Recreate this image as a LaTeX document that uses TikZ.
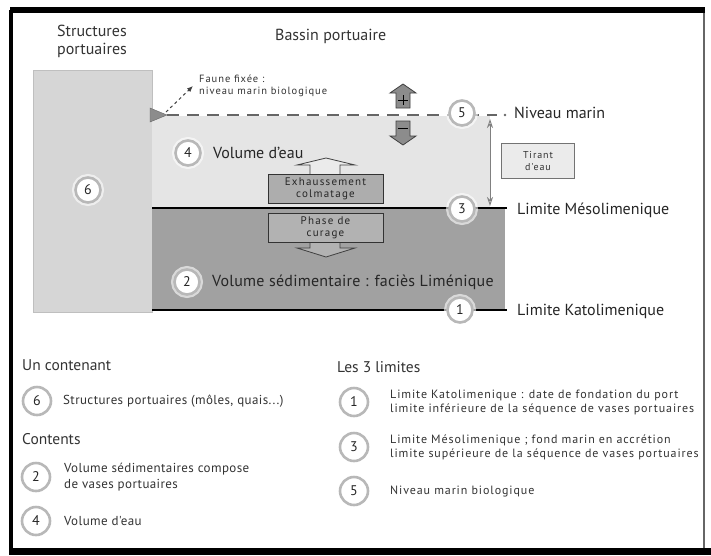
\documentclass[tikz,border=0pt]{standalone}
\usepackage{fontspec}
\setmainfont{PT Sans}
\newfontfamily\fLegR[LetterSpace=7.5]{PT Sans}
\newfontfamily\fLegL[LetterSpace=3]{PT Sans}
\newfontfamily\fSmall[LetterSpace=9]{PT Sans}
\newfontfamily\fBox[LetterSpace=11]{PT Sans}
\newfontfamily\fWide[LetterSpace=1.5]{PT Sans}
\usetikzlibrary{arrows.meta}
\begin{document}
\begin{tikzpicture}[x=1pt,y=-1pt,
  numc/.style={circle,draw=black!28,line width=2.6pt,fill=white,minimum size=25pt,inner sep=0pt,font=\fontsize{14}{14}\selectfont,text=black!85,
    preaction={draw=white,line width=7pt,opacity=0.6}},
  legc/.style={numc,minimum size=28pt},
  biglbl/.style={anchor=west,inner sep=0pt,font=\fontsize{16}{18}\selectfont,text=black!85},
  hd/.style={anchor=west,inner sep=0pt,font=\fontsize{16}{18}\selectfont,text=black!80},
  legL/.style={anchor=west,inner sep=0pt,font=\fLegL\fontsize{13}{16}\selectfont,align=left,text=black!80},
  legR/.style={anchor=west,inner sep=0pt,font=\fLegR\fontsize{12}{14}\selectfont,align=left,text=black!80},
  smalltxt/.style={anchor=west,inner sep=0pt,font=\fSmall\fontsize{10.5}{12}\selectfont,text=black!80},
  procbox/.style={draw=black!80,line width=1pt,minimum width=115pt,minimum height=29pt,inner sep=0pt,align=center,font=\fBox\fontsize{11}{12}\selectfont,text=black!85},
  arrowhd/.style={draw=black!75,line width=0.8pt},
]
\useasboundingbox (0,0) rectangle (711,555);
\fill[white] (0,0) rectangle (711,555);
% frame
\draw[black!60,line width=1.5pt] (11,10) rectangle (704,551);
\fill[black] (10,7) rectangle (705,13);
\fill[black] (9,10) rectangle (13,552);
\fill[black] (9,548) rectangle (711,555);

% headings
\node[hd,align=left] (hstruct) at (57,41) {Structures\\portuaires};
\node[hd] (hbassin) at (275,36) {Bassin portuaire};

% structures block
\draw[fill=black!16,draw=black!25,line width=1pt] (33,70) rectangle (152,312);
% water and sediment
\fill[black!10] (152,116) rectangle (490,208);
\fill[black!37] (152,208) rectangle (505,310);
\draw[line width=2.5pt] (152,208) -- (507,208);
\draw[line width=2.5pt] (152,310) -- (507,310);

% sea level dashed
\draw[black!60,line width=2.5pt,dash pattern=on 12pt off 8pt] (167,115) -- (497,115);
\fill[black!60] (505,115) circle (1.3pt);
% fauna triangle
\draw[fill=black!45,draw=black!60] (150,108) -- (167,115) -- (150,122) -- cycle;
\coordinate (tri) at (166,112);
\node[smalltxt,align=left] (faune) at (199,86) {Faune fixée :\\niveau marin biologique};
\draw[dashed,black!75,line width=1pt,-{Latex[length=6pt,width=5pt]}] (tri) -- (193,86);

% plus / minus arrows
\draw[arrowhd,fill=black!45] (396,108) -- (396,93) -- (390,93) -- (403,84) -- (416,93) -- (410,93) -- (410,108) -- cycle;
\draw[black,line width=0.8pt] (398,100) -- (408,100) (403,95) -- (403,105);
\draw[arrowhd,fill=black!45] (396,121) -- (396,136) -- (390,136) -- (403,145) -- (416,136) -- (410,136) -- (410,121) -- cycle;
\draw[black,line width=0.8pt] (398,128) -- (408,128);

% tirant d'eau
\node[draw=black!55,fill=black!8,minimum width=73pt,minimum height=35pt,inner sep=0pt,align=center,font=\fSmall\fontsize{10}{12}\selectfont,text=black!80] (tirant) at (538,161) {Tirant\\d'eau};
\coordinate (ta) at (490,119);
\coordinate (tb) at (490,206);
\draw[black!50,line width=0.9pt,{Stealth[open,length=9pt,width=6pt]}-{Stealth[open,length=9pt,width=6pt]}] (ta) -- (tb);

% exhaussement
\draw[arrowhd,fill=black!8] (310,175) -- (310,165) -- (297,165) -- (326,158) -- (355,165) -- (340,165) -- (340,175);
\node[procbox,fill=black!32] (exh) at (325.5,189) {Exhaussement\\colmatage};
% curage
\draw[arrowhd,fill=black!30] (310,242) -- (310,248) -- (297,248) -- (326,257) -- (355,248) -- (340,248) -- (340,242);
\node[procbox,fill=black!30] (cur) at (325.5,228) {Phase de\\curage};

% labels inside
\node[numc] (c6) at (88,190) {6};
\node[numc] (c4) at (188,153) {4};
\node[biglbl] (l4) at (213,153) {Volume d'eau};
\node[numc] (c2) at (187,282) {2};
\node[biglbl,font=\fWide\fontsize{16}{18}\selectfont] (l2) at (212,282) {Volume sédimentaire : faciès Liménique};

\node[numc] (c5) at (462,113) {5};
\node[numc] (c3) at (462,209) {3};
\node[numc] (c1) at (460,310) {1};
\node[biglbl] (l5) at (514,113) {Niveau marin};
\node[biglbl] (l3) at (517,210) {Limite Mésolimenique};
\node[biglbl] (l1) at (517,311) {Limite Katolimenique};

% legend left
\node[hd,font=\fontsize{15.5}{18}\selectfont] (un) at (22,365) {Un contenant};
\node[legc] (g6) at (37,401) {6};
\node[legL] (t6) at (63,401) {Structures portuaires (môles, quais...)};
\node[hd,font=\fontsize{15.5}{18}\selectfont] (cont) at (22,439) {Contents};
\node[legc] (g2) at (36,477) {2};
\node[legL] (t2) at (64,477) {Volume sédimentaires compose\\de vases portuaires};
\node[legc] (g4) at (36,521) {4};
\node[legL] (t4) at (64,521) {Volume d'eau};

% legend right
\node[hd,font=\fontsize{15.5}{18}\selectfont] (les) at (337,367) {Les 3 limites};
\node[legc] (g1) at (354,402) {1};
\node[legR] (t1) at (390,402) {Limite Katolimenique : date de fondation du port\\limite inférieure de la séquence de vases portuaires};
\node[legc] (g3) at (354,447) {3};
\node[legR] (t3) at (390,447) {Limite Mésolimenique ; fond marin en accrétion\\limite supérieure de la séquence de vases portuaires};
\node[legc] (g5) at (354,491) {5};
\node[legR] (t5) at (390,491) {Niveau marin biologique};
\end{tikzpicture}
\end{document}
